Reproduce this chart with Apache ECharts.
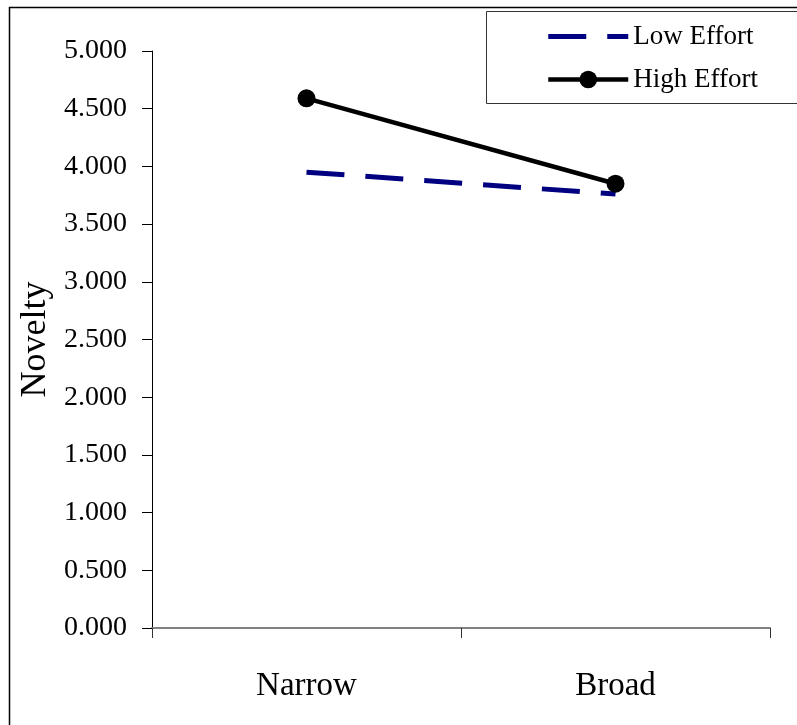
<!DOCTYPE html>
<html>
<head>
<meta charset="utf-8">
<script src="https://cdn.jsdelivr.net/npm/echarts@6/dist/echarts.min.js"></script>
<style>
  html, body { margin: 0; padding: 0; background: #fff; }
  #chart { width: 797px; height: 725px; }
</style>
</head>
<body>
<div id="chart"></div>
<script>
const categories = ['Narrow', 'Broad']
const lowEffort = [3.95, 3.76]
const highEffort = [4.59, 3.85]
const yTicks = { min: 0, max: 5, interval: 0.5 }

const FONT = '"Liberation Serif", "Times New Roman", serif'

// dashed legend key (80x22 box, two navy dashes)
const DASH_ICON = 'path://M0,0L0,0M0,8.5h38v5h-38zM59,8.5h21v5h-21zM80,22L80,22'

const chart = echarts.init(document.getElementById('chart'))

chart.setOption({
  animation: false,
  backgroundColor: '#fff',
  grid: { left: 152, right: 27, top: 51, bottom: 97, containLabel: false },
  graphic: [
    // outer frame
    {
      type: 'rect',
      shape: { x: 9.5, y: 7.5, width: 820, height: 740 },
      style: { fill: 'none', stroke: '#000', lineWidth: 1.5 },
      z: -1,
    },
    // legend box
    {
      type: 'rect',
      shape: { x: 486.5, y: 11.5, width: 330, height: 92 },
      style: { fill: '#fff', stroke: '#333', lineWidth: 1 },
      z: 0,
    },
  ],
  legend: {
    orient: 'vertical',
    left: 541,
    top: 18,
    itemWidth: 80,
    itemHeight: 22,
    itemGap: 16,
    z: 5,
    textStyle: { fontFamily: FONT, fontSize: 27, color: '#000', lineHeight: 27 },
    data: [
      { name: 'Low Effort', icon: DASH_ICON, itemStyle: { color: '#000080' } },
      { name: 'High Effort', lineStyle: { width: 4.5 } },
    ],
  },
  xAxis: {
    type: 'category',
    data: categories,
    boundaryGap: true,
    axisLine: { lineStyle: { color: '#808080', width: 2 } },
    axisTick: { show: true, alignWithLabel: false, length: 10, lineStyle: { color: '#333', width: 1 } },
    axisLabel: { margin: 42, fontFamily: FONT, fontSize: 33, color: '#000' },
    splitLine: { show: false },
  },
  yAxis: {
    type: 'value',
    min: yTicks.min,
    max: yTicks.max,
    interval: yTicks.interval,
    name: 'Novelty',
    nameLocation: 'middle',
    nameRotate: 90,
    nameGap: 93,
    nameTextStyle: { fontFamily: FONT, fontSize: 36, color: '#000' },
    axisLine: { show: true, lineStyle: { color: '#000', width: 1 } },
    axisTick: { show: true, length: 10, lineStyle: { color: '#000', width: 1 } },
    axisLabel: {
      margin: 25,
      fontFamily: FONT,
      fontSize: 28,
      color: '#000',
      formatter: (v) => v.toFixed(3),
    },
    splitLine: { show: false },
  },
  series: [
    {
      name: 'Low Effort',
      type: 'line',
      data: lowEffort,
      symbol: 'none',
      lineStyle: { color: '#000080', width: 5, type: [38, 21] },
      itemStyle: { color: '#000080' },
    },
    {
      name: 'High Effort',
      type: 'line',
      data: highEffort,
      symbol: 'circle',
      symbolSize: 18,
      lineStyle: { color: '#000', width: 4.5 },
      itemStyle: { color: '#000' },
    },
  ],
})
</script>
</body>
</html>
